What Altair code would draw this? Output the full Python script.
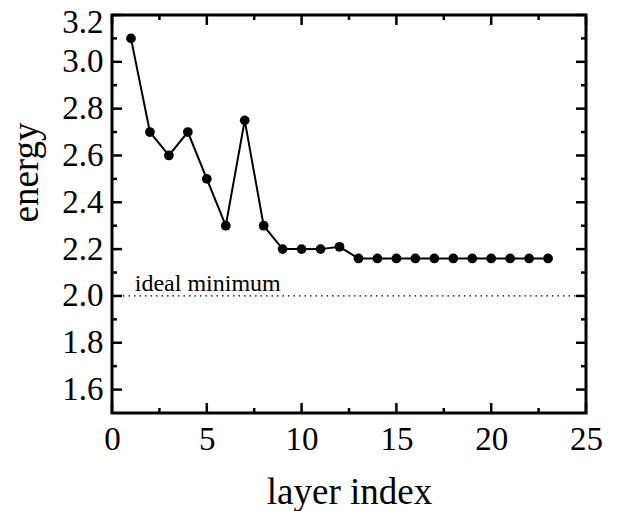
import altair as alt
import pandas as pd

# ---- data ----
layer_index = [1, 2, 3, 4, 5, 6, 7, 8, 9, 10, 11, 12, 13, 14, 15, 16, 17, 18, 19, 20, 21, 22, 23]
energy = [3.10, 2.70, 2.60, 2.70, 2.50, 2.30, 2.75, 2.30, 2.20, 2.20, 2.20, 2.21,
          2.16, 2.16, 2.16, 2.16, 2.16, 2.16, 2.16, 2.16, 2.16, 2.16, 2.16]
x_domain = [0, 25]
y_domain = [1.5, 3.2]
x_major_ticks = [0, 5, 10, 15, 20, 25]
x_minor_ticks = [2.5, 7.5, 12.5, 17.5, 22.5]
y_major_ticks = [1.6, 1.8, 2.0, 2.2, 2.4, 2.6, 2.8, 3.0, 3.2]
y_minor_ticks = [1.7, 1.9, 2.1, 2.3, 2.5, 2.7, 2.9, 3.1]
ideal_minimum = [2.0]
ideal_label = ["ideal minimum"]
ideal_label_x = [1.2]

FONT = "Liberation Serif"
MAJOR = 10
MINOR = 5
TICK_W = 2.5

df = pd.DataFrame({"layer index": layer_index, "energy": energy})
label_df = pd.DataFrame({"layer index": ideal_label_x, "energy": ideal_minimum, "label": ideal_label})
rule_df = pd.DataFrame({"x_start": [x_domain[0]], "x_end": [x_domain[1]], "energy": ideal_minimum})

xs = alt.Scale(domain=x_domain, nice=False, zero=False)
ys = alt.Scale(domain=y_domain, nice=False, zero=False)

x_main = alt.Axis(orient="bottom", values=x_major_ticks, ticks=False, domain=False, grid=False,
                  labelFont=FONT, labelFontSize=33, labelColor="black", labelPadding=10,
                  labelFlush=False, format="d",
                  title="layer index", titleFont=FONT, titleFontSize=37,
                  titleFontWeight="normal", titleColor="black", titlePadding=18)

y_main = alt.Axis(orient="left", values=y_major_ticks, ticks=False, domain=False, grid=False,
                  labelFont=FONT, labelFontSize=33, labelColor="black", labelPadding=9,
                  labelOffset={"condition": {"test": "datum.value > 3.15", "value": 7}, "value": 0},
                  format=".1f",
                  title="energy", titleFont=FONT, titleFontSize=37,
                  titleFontWeight="normal", titleColor="black", titlePadding=16,
                  titleY=157)


def x_ticks(values, length):
    """Inward ticks on the bottom and top edges at the given x values."""
    src = alt.Chart(pd.DataFrame({"tick": values}))
    x = alt.X("tick:Q", scale=xs, axis=None)
    bottom = src.mark_rule(color="black", strokeWidth=TICK_W).encode(
        x=x, y={"value": "height"}, y2={"value": {"expr": f"height - {length}"}})
    top = src.mark_rule(color="black", strokeWidth=TICK_W).encode(
        x=x, y={"value": 0}, y2={"value": length})
    return [bottom, top]


def y_ticks(values, length):
    """Inward ticks on the left and right edges at the given y values."""
    src = alt.Chart(pd.DataFrame({"tick": values}))
    y = alt.Y("tick:Q", scale=ys, axis=None)
    left = src.mark_rule(color="black", strokeWidth=TICK_W).encode(
        y=y, x={"value": 0}, x2={"value": length})
    right = src.mark_rule(color="black", strokeWidth=TICK_W).encode(
        y=y, x={"value": "width"}, x2={"value": {"expr": f"width - {length}"}})
    return [left, right]


line = alt.Chart(df).mark_line(color="black", strokeWidth=2).encode(
    x=alt.X("layer index:Q", scale=xs, axis=x_main),
    y=alt.Y("energy:Q", scale=ys, axis=y_main),
)

points = alt.Chart(df).mark_circle(color="black", size=95, opacity=1).encode(
    x=alt.X("layer index:Q", scale=xs, axis=None),
    y=alt.Y("energy:Q", scale=ys, axis=None),
)

rule = alt.Chart(rule_df).mark_rule(color="black", strokeWidth=1.3, strokeDash=[1.5, 4]).encode(
    x=alt.X("x_start:Q", scale=xs, axis=None),
    x2="x_end:Q",
    y=alt.Y("energy:Q", scale=ys, axis=None),
)

text = alt.Chart(label_df).mark_text(font=FONT, fontSize=24, align="left",
                                     baseline="alphabetic", dy=-5, color="black").encode(
    x=alt.X("layer index:Q", scale=xs, axis=None),
    y=alt.Y("energy:Q", scale=ys, axis=None),
    text="label:N",
)

tick_layers = (x_ticks(x_major_ticks, MAJOR) + x_ticks(x_minor_ticks, MINOR)
               + y_ticks(y_major_ticks, MAJOR) + y_ticks(y_minor_ticks, MINOR))

chart = (
    alt.layer(line, points, rule, text, *tick_layers)
    .resolve_axis(x="independent", y="independent")
    .properties(width=474, height=398,
                autosize=alt.AutoSizeParams(type="none"),
                padding={"left": 104, "top": 7, "right": 20, "bottom": 98})
    .configure(background="white")
    .configure_view(stroke="black", strokeWidth=3)
)

chart.save("out.html", embed_options={"renderer": "svg", "actions": False})
